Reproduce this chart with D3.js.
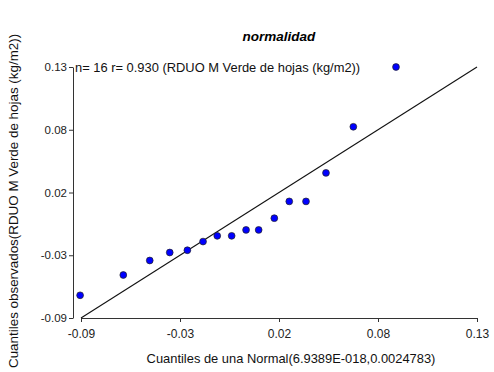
<!DOCTYPE html>
<html lang="es">
<head>
  <meta charset="UTF-8">
  <script src="https://cdnjs.cloudflare.com/ajax/libs/d3/7.8.5/d3.min.js"></script>
  <style>
    body { margin: 0; background: #fff; }
    svg { font-family: "Liberation Sans", Arial, sans-serif; }
  </style>
  <title>normalidad</title>
</head>
<body>
  <script>
    // cuantiles teoricos (normal) y observados
    const teoricos = [-0.0905, -0.0665, -0.0518, -0.0407, -0.0309, -0.0222, -0.0143, -0.0063,
                      0.0017, 0.0087, 0.0174, 0.0257, 0.0350, 0.0461, 0.0613, 0.0850];
    const observados = [-0.0701, -0.0523, -0.0396, -0.0326, -0.0306, -0.0230, -0.0180, -0.0180,
                        -0.0128, -0.0128, -0.0025, 0.0122, 0.0122, 0.0372, 0.0776, 0.1300];
    const tickVals = [-0.09, -0.035, 0.02, 0.075, 0.13];
    const tickLabels = ["-0.09", "-0.03", "0.02", "0.08", "0.13"];
    const refLine = [-0.09, 0.13];

    const w = 494;
    const h = 372;

    const svg = d3.select("body")
      .append("svg")
      .attr("width", w)
      .attr("height", h);

    const xScale = d3.scaleLinear().domain([-0.09, 0.13]).range([81, 477]);
    const yScale = d3.scaleLinear().domain([-0.09, 0.13]).range([318, 67]);

    const fmt = d => tickLabels[tickVals.indexOf(d)];

    const xAxis = d3.axisBottom(xScale).tickValues(tickVals).tickFormat(fmt).tickSize(4).tickSizeOuter(0).tickPadding(7);
    const yAxis = d3.axisLeft(yScale).tickValues(tickVals).tickFormat(fmt).tickSize(4).tickSizeOuter(0).tickPadding(2);

    const gx = svg.append("g")
      .attr("transform", "translate(0,318)")
      .call(xAxis);

    const gy = svg.append("g")
      .attr("transform", "translate(73,0)")
      .call(yAxis);

    [gx, gy].forEach(g => {
      g.selectAll("path, line").attr("stroke", "#333");
      g.selectAll("text").attr("fill", "#222").attr("font-family", "Liberation Sans, Arial, sans-serif");
    });
    gx.selectAll("text").attr("font-size", 12);
    gy.selectAll("text").attr("font-size", 11.5);

    // linea de referencia
    svg.append("line")
      .attr("x1", xScale(refLine[0]))
      .attr("y1", yScale(refLine[0]))
      .attr("x2", xScale(refLine[1]))
      .attr("y2", yScale(refLine[1]))
      .attr("stroke", "#111")
      .attr("stroke-width", 1.1);

    svg.selectAll("circle")
      .data(teoricos)
      .enter()
      .append("circle")
      .attr("cx", d => xScale(d))
      .attr("cy", (d, i) => yScale(observados[i]))
      .attr("r", 3.4)
      .attr("fill", "#0000ff")
      .attr("stroke", "#222")
      .attr("stroke-width", 0.7);

    svg.append("text")
      .attr("x", 279)
      .attr("y", 41)
      .attr("text-anchor", "middle")
      .attr("font-size", 13.5)
      .attr("font-weight", "bold")
      .attr("font-style", "italic")
      .text("normalidad");

    svg.append("text")
      .attr("x", 75)
      .attr("y", 72)
      .attr("font-size", 12.9)
      .attr("fill", "#111")
      .text("n= 16 r= 0.930 (RDUO M Verde de hojas (kg/m2))");

    svg.append("text")
      .attr("x", 291)
      .attr("y", 363)
      .attr("text-anchor", "middle")
      .attr("font-size", 12.9)
      .attr("fill", "#111")
      .text("Cuantiles de una Normal(6.9389E-018,0.0024783)");

    svg.append("text")
      .attr("transform", "translate(18,368) rotate(-90)")
      .attr("font-size", 13.4)
      .attr("fill", "#111")
      .text("Cuantiles observados(RDUO M Verde de hojas (kg/m2))");
  </script>
</body>
</html>
